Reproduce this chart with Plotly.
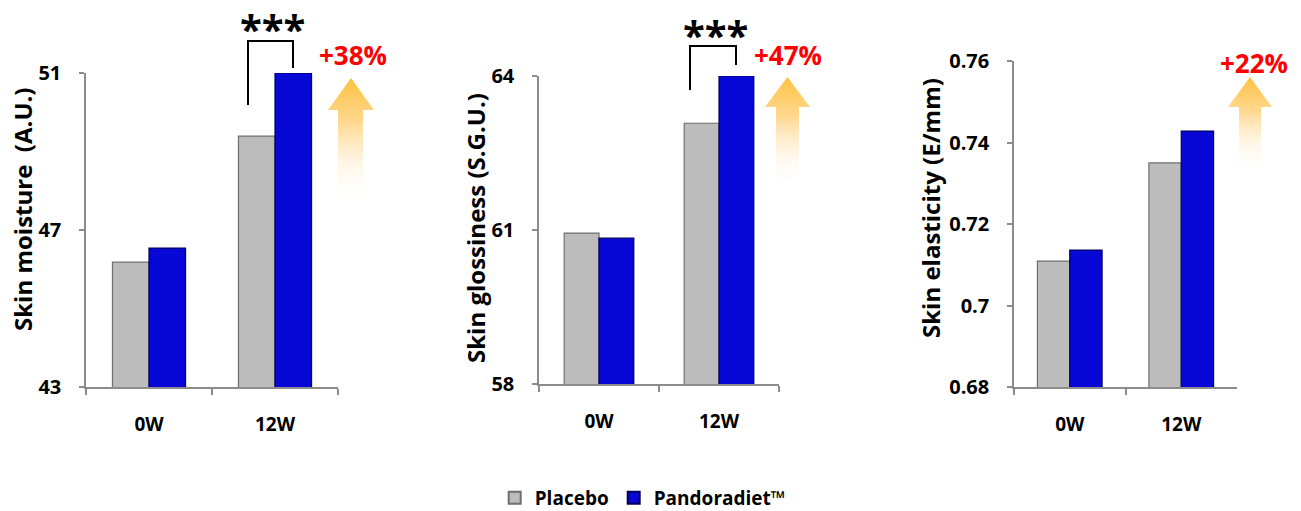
import base64
import plotly.graph_objects as go

W, H = 1301, 511

categories = ["0W", "12W"]
series_names = ["Placebo", "Pandoradiet™"]

moisture_placebo = [46.18, 49.39]
moisture_pandora = [46.54, 51.0]
gloss_placebo = [60.94, 63.08]
gloss_pandora = [60.84, 64.0]
elastic_placebo = [0.7109, 0.735]
elastic_pandora = [0.7136, 0.7428]

moisture_ticks = [43, 47, 51]
gloss_ticks = [58, 61, 64]
elastic_ticks = [0.68, 0.70, 0.72, 0.74, 0.76]
elastic_ticktext = ["0.68", "0.7", "0.72", "0.74", "0.76"]

y_titles = ["Skin moisture\u00a0\u00a0(A.U.)", "Skin glossiness (S.G.U.)", "Skin elasticity (E/mm)"]
increase_labels = ["+38%", "+47%", "+22%"]

colors = ["#BCBCBC", "#0707D6"]
edge_colors = ["#6E6E6E", "#00005E"]

FONT = "Open Sans"


def px(x):
    return x / W


def py(y):
    return 1 - y / H


# panel geometry in pixels (x0, x1, ytop, ybottom)
panels = [(86, 338, 73, 387), (539, 779, 76, 384), (1014, 1237, 61, 387)]

fig = go.Figure()

data = [
    (moisture_placebo, moisture_pandora),
    (gloss_placebo, gloss_pandora),
    (elastic_placebo, elastic_pandora),
]

for i, (pl, pd_) in enumerate(data):
    xa = "x" if i == 0 else f"x{i+1}"
    ya = "y" if i == 0 else f"y{i+1}"
    for j, vals in enumerate([pl, pd_]):
        fig.add_trace(go.Bar(
            x=categories, y=vals, name=series_names[j],
            marker=dict(color=colors[j], line=dict(color=edge_colors[j], width=1.2)),
            xaxis=xa, yaxis=ya, showlegend=(i == 0),
            legendgroup=series_names[j],
        ))

ranges = [(43, 51), (58, 64), (0.68, 0.76)]
tickvals = [moisture_ticks, gloss_ticks, elastic_ticks]
ticktexts = [[str(t) for t in moisture_ticks], [str(t) for t in gloss_ticks], elastic_ticktext]

axis_color = "#8C8C8C"
tickfont = dict(family=FONT, size=20, color="black", weight="bold")

layout = dict(
    width=W, height=H,
    margin=dict(l=0, r=0, t=0, b=0, autoexpand=False),
    paper_bgcolor="white", plot_bgcolor="white",
    barmode="group", bargap=0.42, bargroupgap=0,
    showlegend=True,
    legend=dict(orientation="h", x=0.494, xanchor="center", y=py(498), yanchor="middle",
                font=dict(family=FONT, size=19, color="black", weight="bold"),
                itemsizing="constant", bgcolor="rgba(0,0,0,0)"),
)

for i, (x0, x1, yt, yb) in enumerate(panels):
    sx = "" if i == 0 else str(i + 1)
    layout[f"xaxis{sx}"] = dict(
        domain=[px(x0), px(x1)], anchor=f"y{sx}", type="category",
        range=[-0.5, 1.5], showline=True, linecolor=axis_color, linewidth=1.5,
        ticks="outside", tickson="boundaries", ticklen=6, tickcolor=axis_color, tickwidth=1.5,
        showgrid=False, zeroline=False,
        tickfont=dict(family=FONT, size=19, color="black", weight="bold"),
        ticklabelstandoff=19,
    )
    layout[f"yaxis{sx}"] = dict(
        domain=[py(yb), py(yt)], anchor=f"x{sx}", range=list(ranges[i]),
        tickvals=tickvals[i], ticktext=ticktexts[i],
        showline=True, linecolor=axis_color, linewidth=1.5,
        ticks="outside", ticklen=5, tickcolor=axis_color, tickwidth=1.5,
        showgrid=False, zeroline=False, tickfont=tickfont,
        ticklabelstandoff=14,
    )

fig.update_layout(**layout)

# y-axis titles
title_pos = [(23, 209), (475, 228), (930, 208)]
for t, (x, y) in zip(y_titles, title_pos):
    fig.add_annotation(text=t, x=px(x), y=py(y), xref="paper", yref="paper",
                       showarrow=False, textangle=-90, xanchor="center", yanchor="middle",
                       font=dict(family=FONT, size=24, color="black", weight="bold"))

# significance brackets: (x_left, x_right, y_top, y_left_end, y_right_end, stars_y)
brackets = [(248, 293, 41, 105, 68, 28), (690, 736, 46, 90, 65, 34)]
for (xl, xr, ytop, yl, yr, sy) in brackets:
    path = (f"M {px(xl)},{py(yl)} L {px(xl)},{py(ytop)} L {px(xr)},{py(ytop)} L {px(xr)},{py(yr)}")
    fig.add_shape(type="path", path=path, xref="paper", yref="paper",
                  line=dict(color="black", width=2))
    fig.add_annotation(text="***", x=px((xl + xr) / 2 + 2), y=py(sy), xref="paper", yref="paper",
                       showarrow=False, xanchor="center", yanchor="middle",
                       font=dict(family=FONT, size=40, color="black", weight="bold"))

# percentage labels
pct_pos = [(353, 55), (788, 55), (1254, 63)]
for t, (x, y) in zip(increase_labels, pct_pos):
    fig.add_annotation(text=t, x=px(x), y=py(y), xref="paper", yref="paper",
                       showarrow=False, xanchor="center", yanchor="middle",
                       font=dict(family=FONT, size=26, color="#FF0000", weight="bold"))


def arrow_svg(w, h, head_h, shaft_l, shaft_r):
    svg = f'''<svg xmlns="http://www.w3.org/2000/svg" width="{w}" height="{h}" viewBox="0 0 {w} {h}" preserveAspectRatio="none">
<defs><linearGradient id="g" x1="0" y1="0" x2="0" y2="1">
<stop offset="0" stop-color="#FFC23F" stop-opacity="1"/>
<stop offset="0.35" stop-color="#FFD07A" stop-opacity="0.85"/>
<stop offset="1" stop-color="#FFFFFF" stop-opacity="0"/>
</linearGradient></defs>
<polygon points="{w/2},0 {w},{head_h} {shaft_r},{head_h} {shaft_r},{h} {shaft_l},{h} {shaft_l},{head_h} 0,{head_h}" fill="url(#g)"/>
</svg>'''
    return "data:image/svg+xml;base64," + base64.b64encode(svg.encode()).decode()


# arrows: (head_x0, head_x1, top, head_bottom, shaft_x0, shaft_x1, bottom)
arrows = [(328, 374, 78, 110, 338, 363, 203),
          (765, 810, 77, 107, 776, 799, 187),
          (1228, 1272, 77, 107, 1239, 1261, 173)]
for (hx0, hx1, top, hb, sx0, sx1, bot) in arrows:
    w = hx1 - hx0
    h = bot - top
    src = arrow_svg(w, h, hb - top, sx0 - hx0, sx1 - hx0)
    fig.add_layout_image(source=src, xref="paper", yref="paper",
                         x=px(hx0), y=py(top), sizex=w / W, sizey=h / H,
                         xanchor="left", yanchor="top", sizing="stretch", layer="above")

fig.write_html("out.html", config={"displayModeBar": False},
               post_script="document.body.style.margin='0';document.body.style.overflow='hidden';")
